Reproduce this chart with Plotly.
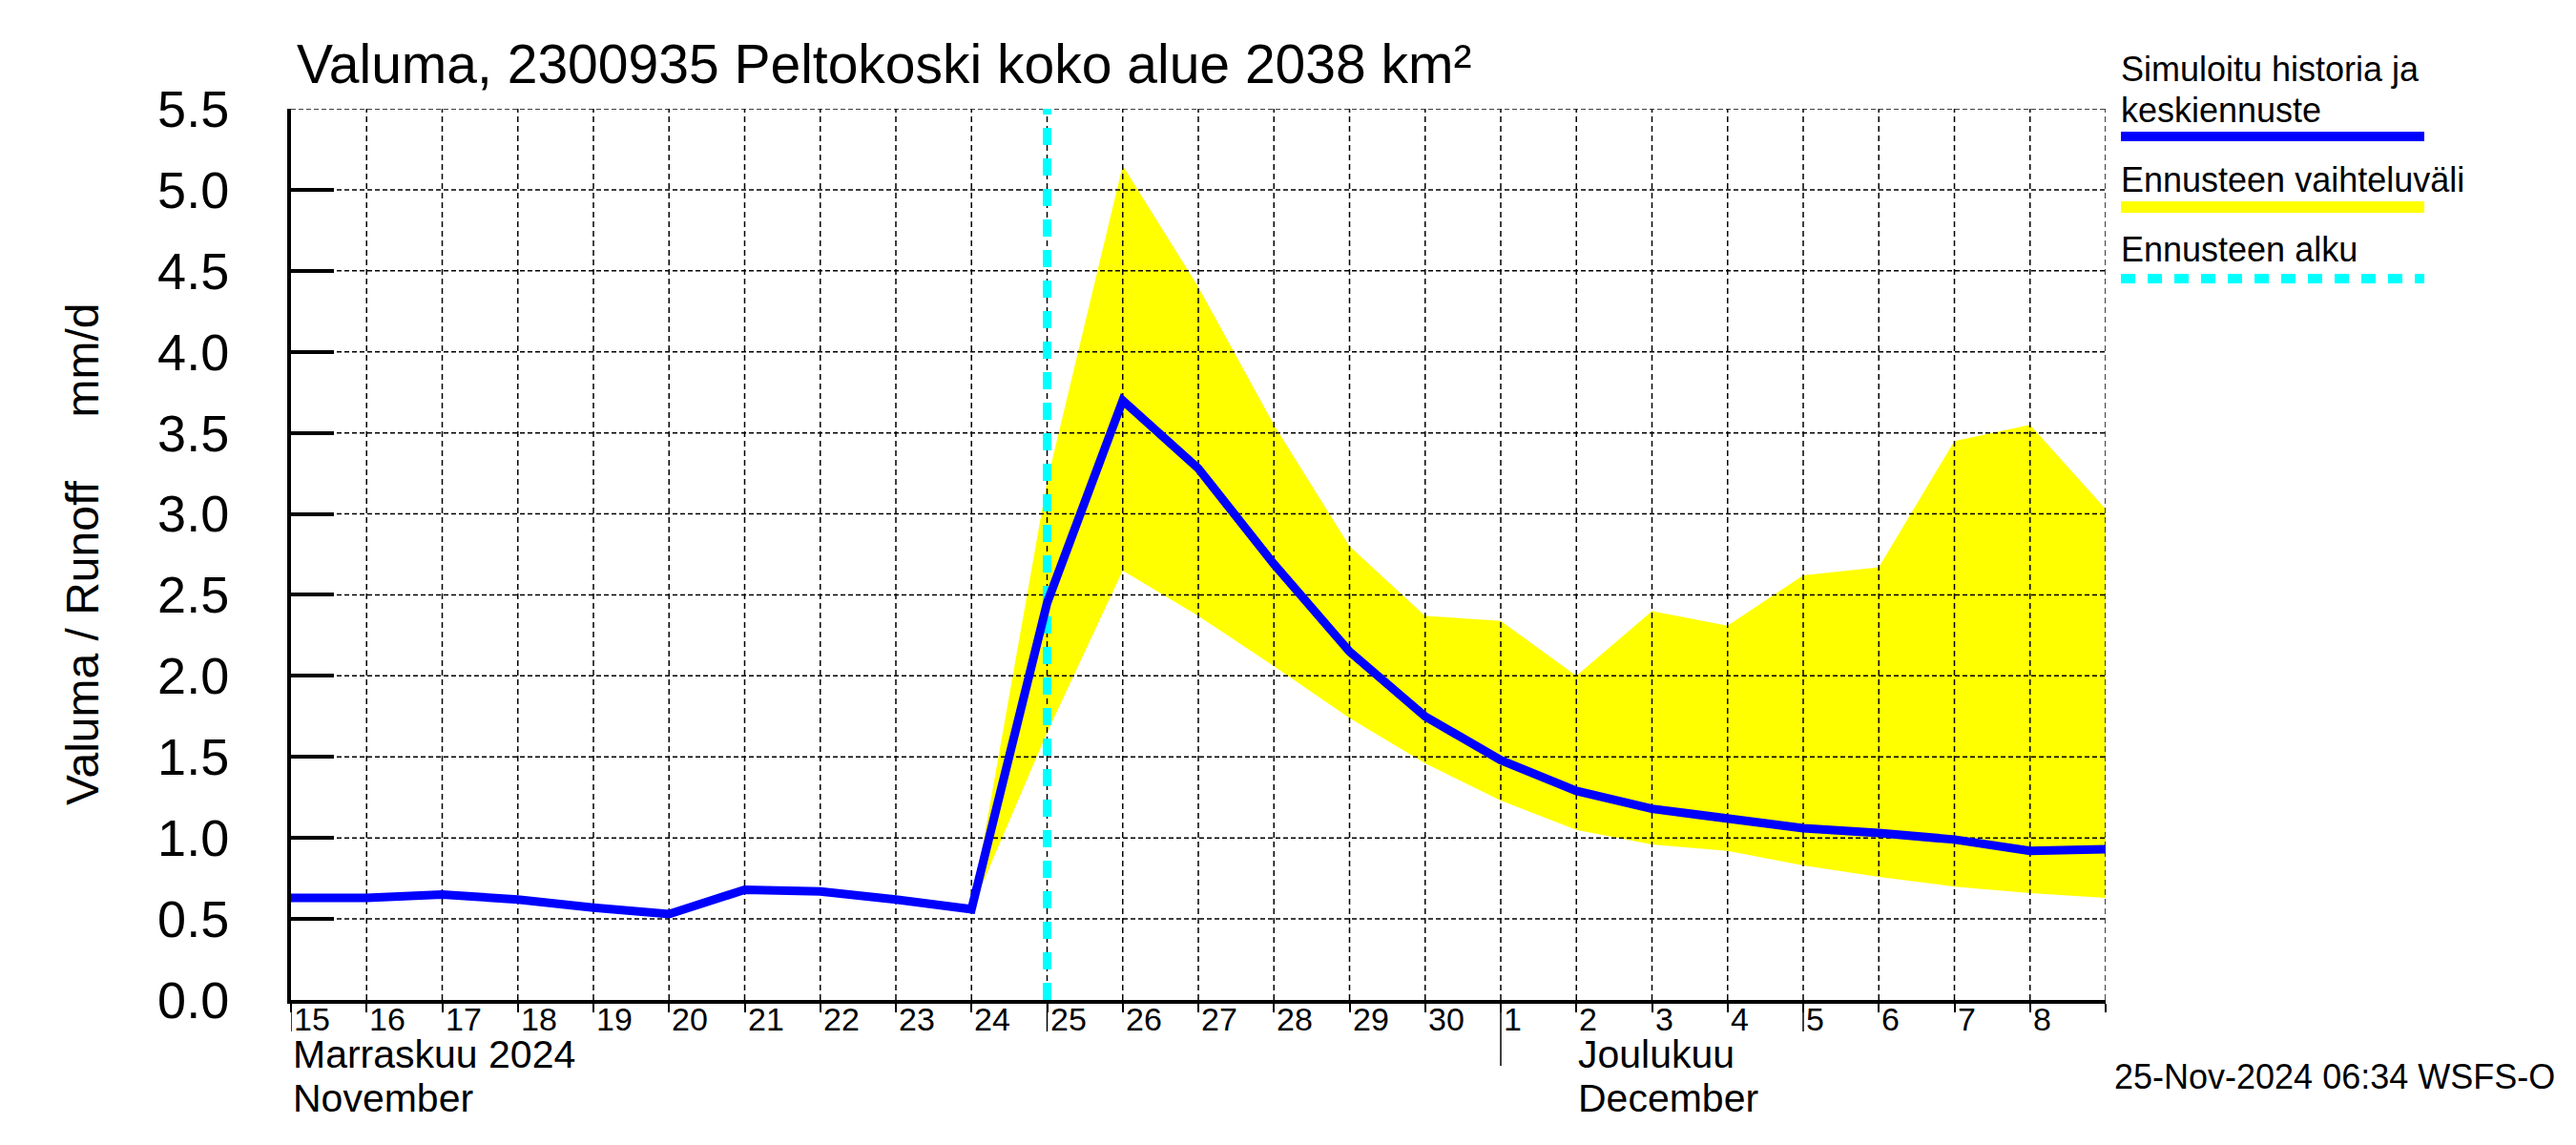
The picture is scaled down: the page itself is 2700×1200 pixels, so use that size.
import plotly.graph_objects as go
import pandas as pd

# ---------------- data ----------------
dates = [d.strftime("%Y-%m-%d") for d in pd.date_range("2024-11-15", "2024-12-09", freq="D")]
runoff = [0.63, 0.63, 0.65, 0.62, 0.57, 0.53, 0.68, 0.67, 0.62, 0.56,
          2.45, 3.70, 3.28, 2.69, 2.15, 1.75, 1.48, 1.29, 1.18, 1.12,
          1.06, 1.03, 0.99, 0.92, 0.93]
band_dates = dates[9:]   # 24.11. .. 9.12.
band_upper = [0.56, 3.20, 5.15, 4.40, 3.55, 2.80, 2.37, 2.34, 2.00, 2.40,
              2.31, 2.62, 2.67, 3.45, 3.55, 3.03]
band_lower = [0.56, 1.65, 2.65, 2.37, 2.06, 1.74, 1.46, 1.23, 1.05, 0.96,
              0.92, 0.83, 0.76, 0.70, 0.66, 0.63]
forecast_start = "2024-11-25"
y_ticks = [0.0, 0.5, 1.0, 1.5, 2.0, 2.5, 3.0, 3.5, 4.0, 4.5, 5.0, 5.5]
label_days = dates[:-1]
day_labels = [str(pd.Timestamp(d).day) for d in label_days]
mid_ticks = ["2024-11-15", "2024-11-25", "2024-12-05"]
month_ticks = ["2024-12-01"]
months = [("2024-11-15", "Marraskuu 2024", "November"),
          ("2024-12-02", "Joulukuu", "December")]
title = "Valuma, 2300935 Peltokoski koko alue 2038 km²"
ytitle = "Valuma / Runoff\u00a0\u00a0\u00a0\u00a0\u00a0mm/d"
stamp = "25-Nov-2024 06:34 WSFS-O"
legend_items = ["Simuloitu historia ja", "keskiennuste", "Ennusteen vaihteluväli", "Ennusteen alku"]

FONT = "Liberation Sans, Arial, Helvetica, sans-serif"
W, H = 2700, 1200
OFF = 8  # page body margin
L, R, T, B = 305 - OFF, 2207 - OFF, 114 - OFF, 1048 - OFF

def px(xpix):
    return (xpix - OFF - L) / (R - L)

def py(ypix):
    return (B - (ypix - OFF)) / (B - T)

fig = go.Figure()

# forecast range band
fig.add_trace(go.Scatter(x=band_dates + band_dates[::-1], y=band_upper + band_lower[::-1],
                         fill="toself", fillcolor="#FFFF00", mode="lines",
                         line=dict(width=0, color="#FFFF00"), hoverinfo="skip"))

# gridlines drawn above the band
gx, gy = [], []
for yv in y_ticks[1:]:
    gx += [dates[0], dates[-1], None]
    gy += [yv, yv, None]
fig.add_trace(go.Scatter(x=gx, y=gy, mode="lines", line=dict(color="black", width=1.5, dash="5px,3px"),
                         hoverinfo="skip"))
vx, vy = [], []
for d in dates[1:]:
    vx += [d, d, None]
    vy += [y_ticks[0], y_ticks[-1], None]
fig.add_trace(go.Scatter(x=vx, y=vy, mode="lines", line=dict(color="black", width=1.5, dash="6px,4px"),
                         hoverinfo="skip"))

# forecast start
fig.add_trace(go.Scatter(x=[forecast_start, forecast_start], y=[y_ticks[0], y_ticks[-1]], mode="lines",
                         line=dict(color="#00FFFF", width=9, dash="18px,14px"), hoverinfo="skip"))

# simulated / mean forecast
fig.add_trace(go.Scatter(x=dates, y=runoff, mode="lines", line=dict(color="#0000FF", width=9)))

annotations = []
annotations.append(dict(text=title, xref="paper", yref="paper", x=px(309), y=py(67), xanchor="left",
                        yanchor="middle", showarrow=False, font=dict(family=FONT, size=57, color="black")))
annotations.append(dict(text=ytitle, xref="paper", yref="paper", x=px(86), y=0.5, textangle=-90,
                        xanchor="center", yanchor="middle", showarrow=False,
                        font=dict(family=FONT, size=48, color="black")))
for d, lab in zip(label_days, day_labels):
    annotations.append(dict(text=lab, xref="x", yref="paper", x=d, y=py(1068), xanchor="left", xshift=1,
                            yanchor="middle", showarrow=False, font=dict(family=FONT, size=34, color="black")))
for d, fi, en in months:
    annotations.append(dict(text=fi, xref="x", yref="paper", x=d, y=py(1105), xanchor="left", xshift=0,
                            yanchor="middle", showarrow=False, font=dict(family=FONT, size=41, color="black")))
    annotations.append(dict(text=en, xref="x", yref="paper", x=d, y=py(1151), xanchor="left", xshift=0,
                            yanchor="middle", showarrow=False, font=dict(family=FONT, size=41, color="black")))
annotations.append(dict(text=stamp, xref="paper", yref="paper", x=px(2680), y=py(1128), xanchor="right",
                        yanchor="middle", showarrow=False, font=dict(family=FONT, size=36, color="black")))

# legend (custom, text above sample line)
leg_y = [72, 115, 188, 262]
for txt, yy in zip(legend_items, leg_y):
    annotations.append(dict(text=txt, xref="paper", yref="paper", x=px(2221), y=py(yy), xanchor="left",
                            yanchor="middle", showarrow=False, font=dict(family=FONT, size=36, color="black")))

shapes = []
shapes.append(dict(type="line", xref="paper", yref="paper", x0=px(2223), x1=px(2541), y0=py(143), y1=py(143),
                   line=dict(color="#0000FF", width=10)))
shapes.append(dict(type="line", xref="paper", yref="paper", x0=px(2223), x1=px(2541), y0=py(217), y1=py(217),
                   line=dict(color="#FFFF00", width=12)))
shapes.append(dict(type="line", xref="paper", yref="paper", x0=px(2223), x1=px(2541), y0=py(292), y1=py(292),
                   line=dict(color="#00FFFF", width=10, dash="15px,13px")))
for d in mid_ticks:
    shapes.append(dict(type="line", xref="x", yref="paper", x0=d, x1=d, y0=0, y1=py(1081),
                       line=dict(color="black", width=1.5)))
for d in month_ticks:
    shapes.append(dict(type="line", xref="x", yref="paper", x0=d, x1=d, y0=0, y1=py(1117),
                       line=dict(color="black", width=1.5)))

fig.update_layout(
    width=W, height=H,
    margin=dict(l=L, r=W - R, t=T, b=H - B, pad=0),
    paper_bgcolor="white", plot_bgcolor="white",
    showlegend=False,
    annotations=annotations, shapes=shapes,
    font=dict(family=FONT, color="black"),
)
fig.update_xaxes(type="date", range=[dates[0], dates[-1]], showgrid=False, zeroline=False,
                 tickmode="array", tickvals=dates, showticklabels=False,
                 ticks="outside", ticklen=9, tickwidth=1.5, tickcolor="black",
                 showline=True, linewidth=4, linecolor="black")
fig.update_yaxes(range=[y_ticks[0], y_ticks[-1]], showgrid=False, zeroline=False,
                 tickmode="array", tickvals=y_ticks, ticktext=[f"{v:.1f}" for v in y_ticks],
                 ticks="inside", ticklen=45, tickwidth=4, tickcolor="black",
                 showline=True, linewidth=4, linecolor="black",
                 tickfont=dict(family=FONT, size=54, color="black"), ticklabelstandoff=50)

fig.write_html("out.html")
